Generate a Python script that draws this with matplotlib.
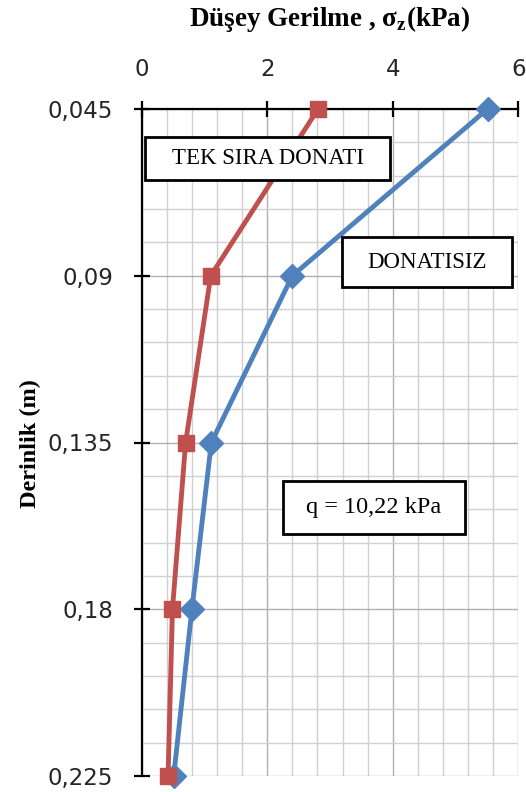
import matplotlib
matplotlib.use("Agg")
import matplotlib.pyplot as plt
from matplotlib.ticker import MultipleLocator, FixedLocator

depth = [0.045, 0.09, 0.135, 0.18, 0.225]
tek_sira = [2.81, 1.10, 0.70, 0.49, 0.42]
donatisiz = [5.51, 2.40, 1.11, 0.80, 0.51]
depth_labels = ["0,045", "0,09", "0,135", "0,18", "0,225"]
x_ticks = [0, 2, 4, 6]

W, H = 526, 792
fig = plt.figure(figsize=(W / 100, H / 100), dpi=100)
x0, x1 = 141.7, 518.3
y0, y1 = 109, 776
ax = fig.add_axes([x0 / W, 1 - y1 / H, (x1 - x0) / W, (y1 - y0) / H])

ax.set_xlim(0, 6)
ax.set_ylim(0.225, 0.045)

ax.xaxis.set_major_locator(FixedLocator(x_ticks))
ax.xaxis.set_minor_locator(MultipleLocator(0.4))
ax.yaxis.set_major_locator(FixedLocator(depth))
ax.yaxis.set_minor_locator(MultipleLocator(0.009))
ax.set_yticklabels(depth_labels)
ax.set_xticklabels([str(v) for v in x_ticks])

ax.xaxis.tick_top()

ax.grid(which="minor", color="#D0D0D0", linewidth=1.0)
ax.grid(which="major", color="#B0B0B0", linewidth=1.0)
ax.set_axisbelow(True)

for s in ["right", "bottom"]:
    ax.spines[s].set_visible(False)
for s in ["left", "top"]:
    ax.spines[s].set_linewidth(1.6)
    ax.spines[s].set_color("black")

ax.tick_params(which="major", direction="inout", length=11, width=1.6,
               labelsize=16.5)
ax.tick_params(which="minor", length=0)
ax.tick_params(axis="x", pad=15)
ax.tick_params(axis="y", pad=15)
for lab in ax.get_xticklabels() + ax.get_yticklabels():
    lab.set_color("#262626")

ax.plot(donatisiz, depth, color="#4F81BD", linewidth=3.5, marker="D",
        markersize=12, zorder=3, clip_on=False)
ax.plot(tek_sira, depth, color="#C0504D", linewidth=3.5, marker="s",
        markersize=11.5, zorder=4, clip_on=False)

fig.text(330 / W, 1 - 19 / H, "Düşey Gerilme , σ$_\\mathregular{z}$(kPa)",
         family="Liberation Serif", fontweight="bold", fontsize=19.5,
         ha="center", va="center")
fig.text(30 / W, 1 - 444 / H, "Derinlik (m)", family="Liberation Serif",
         fontweight="bold", fontsize=17.5, rotation=90, ha="center",
         va="center")


def boxed(text, left, top, right, bottom, size):
    fig.patches.append(plt.Rectangle((left / W, 1 - bottom / H),
                                     (right - left) / W, (bottom - top) / H,
                                     transform=fig.transFigure, facecolor="white",
                                     edgecolor="black", linewidth=2.0, zorder=5))
    fig.text((left + right) / 2 / W, 1 - (top + bottom) / 2 / H, text,
             family="Liberation Serif", fontsize=size, ha="center",
             va="center", zorder=6)


boxed("TEK SIRA DONATI", 145, 137, 390, 180, 16.5)
boxed("DONATISIZ", 342, 237, 512, 287, 16.5)
boxed("q = 10,22 kPa", 283, 481, 465, 534, 17.5)

fig.savefig("out.png", dpi=100)
